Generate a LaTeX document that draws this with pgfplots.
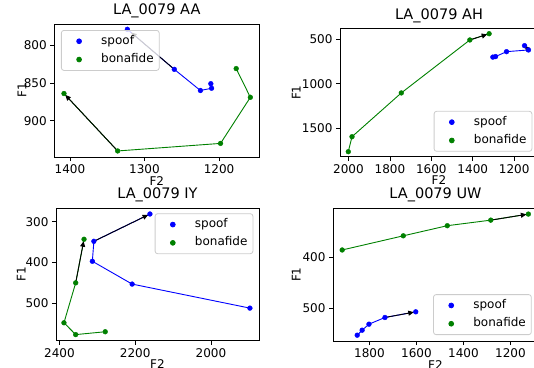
\documentclass[border=0pt]{standalone}
\usepackage{fontspec}
\setmainfont{DejaVu Sans}
\usepackage{pgfplots}
\pgfplotsset{compat=1.18}
\usetikzlibrary{arrows.meta}
\definecolor{mblue}{RGB}{0,0,255}
\definecolor{mgreen}{RGB}{0,128,0}
\definecolor{lgedge}{RGB}{204,204,204}
\pgfplotsset{
  myax/.style={
    scale only axis,
    x dir=reverse, y dir=reverse,
    axis line style={line width=0.8pt, black},
    tick align=outside, tick pos=left,
    major tick length=4pt,
    every tick/.style={black, line width=0.8pt},
    /pgf/number format/assume math mode=true,
    /pgf/number format/1000 sep={},
    tick label style={font=\fontsize{12}{14}\selectfont},
    label style={font=\fontsize{12}{14}\selectfont},
    title style={font=\fontsize{14.5}{17}\selectfont, at={(0.5,1)}, anchor=base, yshift=3.5pt},
    xlabel style={at={(0.5,0)}, anchor=base, yshift=-28pt},
    ylabel style={anchor=base},
    legend cell align=left,
    legend style={draw=lgedge, line width=0.8pt, rounded corners=2.5pt, fill=white,
      fill opacity=0.8, draw opacity=1, text opacity=1,
      font=\fontsize{12}{14}\selectfont, inner xsep=5.5pt, inner ysep=1.7pt,
      column sep=5pt, row sep=0pt,
      nodes={inner xsep=0pt, inner ysep=3.65pt, text height=8.5pt, text depth=2.5pt}},
    legend image code/.code={\path (-11.8pt,0pt) (16.7pt,0pt); \fill[fill opacity=1] (0pt,0pt) circle (2.4pt);},
  },
  ln/.style={line width=0.9pt, forget plot},
  arr/.style={black, line width=0.9pt, forget plot, -{Triangle[length=5.5pt,width=5pt]}},
  mk/.style={only marks, mark=*, mark size=2.4pt},
}
\begin{document}
\begin{tikzpicture}
\path[use as bounding box] (0pt,0pt) rectangle (534pt,-367pt);
% ---------- AA ----------
\begin{axis}[myax, at={(54.3pt,-24pt)}, anchor=north west, width=205pt, height=133pt,
  xmin=1146, xmax=1421, ymin=772, ymax=948,
  xtick={1200,1300,1400}, ytick={800,850,900},
  title={LA\_0079 AA}, xlabel={F2}, ylabel={F1},
  ylabel style={at={(-0.1356,0.5)}},
  legend style={at={(0,1)}, anchor=north west, xshift=6.7pt, yshift=-6pt}]
\addplot[mblue, ln] coordinates {(1211,851)(1210,857)(1225,860)(1260,832)(1323,779)};
\addplot[mgreen, ln] coordinates {(1177,831)(1158,869)(1198,930)(1336,940)(1408,864)};
\addplot[mblue, mk] coordinates {(1211,851)(1210,857)(1225,860)(1260,832)(1323,779)};
\addlegendentry{spoof}
\addplot[mgreen, mk] coordinates {(1177,831)(1158,869)(1198,930)(1336,940)(1408,864)};
\addlegendentry{bonafide}
\addplot[arr, shorten >=5pt] coordinates {(1260,832)(1323,779)};
\addplot[arr, shorten >=2pt] coordinates {(1336,940)(1408,864)};
\end{axis}
% ---------- AH ----------
\begin{axis}[myax, at={(340pt,-28.7pt)}, anchor=north west, width=198pt, height=128pt,
  xmin=1085, xmax=2041, ymin=385, ymax=1818,
  xtick={1200,1400,1600,1800,2000}, ytick={500,1000,1500},
  title={LA\_0079 AH}, xlabel={F2}, ylabel={F1},
  ylabel style={at={(-0.1985,0.5)}},
  legend style={at={(1,0)}, anchor=south east, xshift=-5.7pt, yshift=5pt}]
\addplot[mblue, ln] coordinates {(1303,703)(1290,697)(1237,642)(1131,623)(1150,575)};
\addplot[mgreen, ln] coordinates {(2001,1762)(1983,1594)(1745,1104)(1414,511)(1321,441)};
\addplot[mblue, mk] coordinates {(1303,703)(1290,697)(1237,642)(1131,623)(1150,575)};
\addlegendentry{spoof}
\addplot[mgreen, mk] coordinates {(2001,1762)(1983,1594)(1745,1104)(1414,511)(1321,441)};
\addlegendentry{bonafide}
\addplot[arr] coordinates {(1131,623)(1150,575)};
\addplot[arr, shorten >=2pt] coordinates {(1414,511)(1321,441)};
\end{axis}
% ---------- IY ----------
\begin{axis}[myax, at={(56pt,-208.3pt)}, anchor=north west, width=203pt, height=132.4pt,
  xmin=1873, xmax=2409, ymin=267, ymax=592,
  xtick={2000,2200,2400}, ytick={300,400,500},
  title={LA\_0079 IY}, xlabel={F2}, ylabel={F1},
  ylabel style={at={(-0.150,0.5)}},
  legend style={at={(1,1)}, anchor=north east, xshift=-5.7pt, yshift=-5pt}]
\addplot[mblue, ln] coordinates {(1897,512)(2208,453)(2313,397)(2309,348)(2161,281)};
\addplot[mgreen, ln] coordinates {(2279,570)(2357,577)(2388,548)(2357,450)(2335,343)};
\addplot[mblue, mk] coordinates {(1897,512)(2208,453)(2313,397)(2309,348)(2161,281)};
\addlegendentry{spoof}
\addplot[mgreen, mk] coordinates {(2279,570)(2357,577)(2388,548)(2357,450)(2335,343)};
\addlegendentry{bonafide}
\addplot[arr, shorten >=2pt] coordinates {(2309,348)(2161,281)};
\addplot[arr, shorten >=2pt] coordinates {(2357,450)(2335,343)};
\end{axis}
% ---------- UW ----------
\begin{axis}[myax, at={(333pt,-208.3pt)}, anchor=north west, width=205pt, height=132.7pt,
  xmin=1083, xmax=1955, ymin=302.6, ymax=565,
  xtick={1200,1400,1600,1800}, ytick={400,500},
  title={LA\_0079 UW}, xlabel={F2}, ylabel={F1},
  ylabel style={at={(-0.1576,0.5)}},
  legend style={at={(1,0)}, anchor=south east, xshift=-6.3pt, yshift=6pt}]
\addplot[mblue, ln] coordinates {(1852,553.5)(1831,543.6)(1802,531.7)(1734,518.5)(1603,507.3)};
\addplot[mgreen, ln] coordinates {(1916,385)(1656,357)(1469,337)(1284,326)(1124,314)};
\addplot[mblue, mk] coordinates {(1852,553.5)(1831,543.6)(1802,531.7)(1734,518.5)(1603,507.3)};
\addlegendentry{spoof}
\addplot[mgreen, mk] coordinates {(1916,385)(1656,357)(1469,337)(1284,326)(1124,314)};
\addlegendentry{bonafide}
\addplot[arr, shorten >=2pt] coordinates {(1734,518.5)(1603,507.3)};
\addplot[arr, shorten >=2pt] coordinates {(1284,326)(1124,314)};
\end{axis}
\end{tikzpicture}
\end{document}
